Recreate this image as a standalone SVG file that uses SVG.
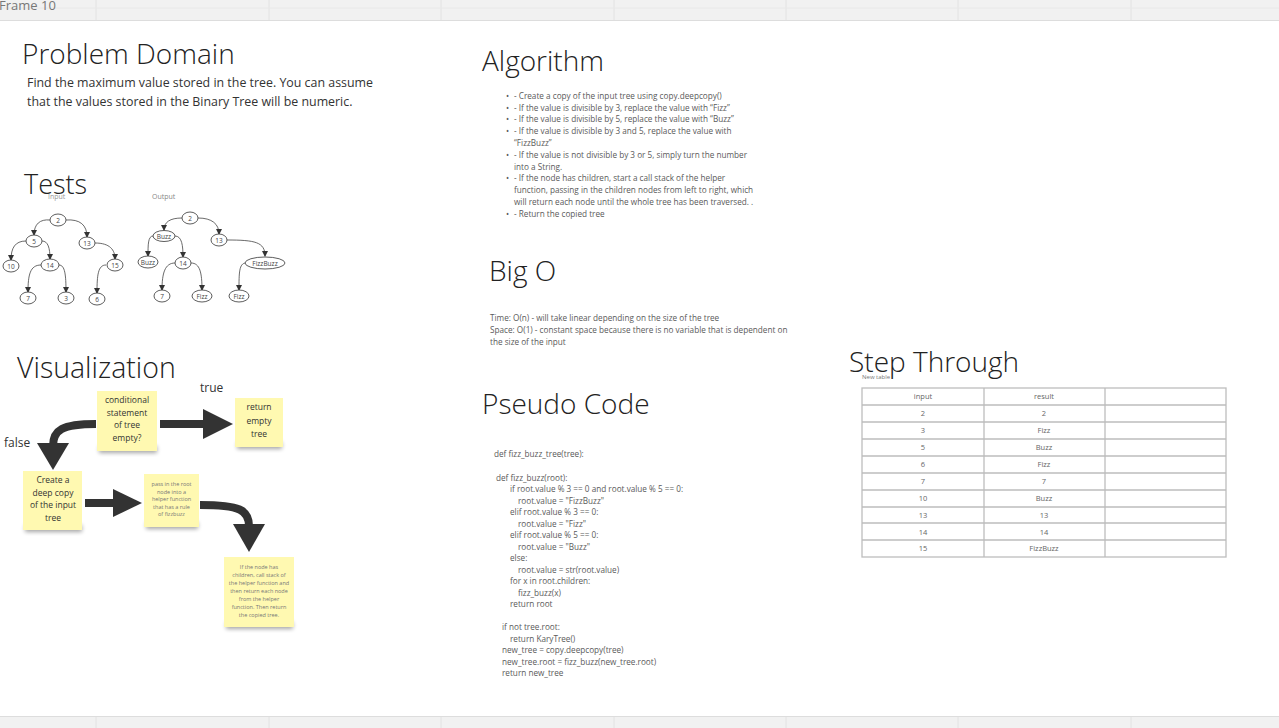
<svg xmlns="http://www.w3.org/2000/svg" width="1279" height="728" viewBox="0 0 1279 728">
<defs>
<style>
text{font-family:"Open Sans","Liberation Sans",sans-serif}
.title{font-size:28px;fill:#222;font-weight:300}
.body{font-size:12.4px;fill:#333}
.sm{font-size:8.2px;fill:#5a5a5a}
.nd{fill:#fff;stroke:#333;stroke-width:0.8}
.nt{font-size:6.5px;fill:#444;text-anchor:middle}
.ed{fill:none;stroke:#444;stroke-width:0.8;marker-end:url(#ah)}
.stk{fill:#fff9b1}
.st{font-size:8.5px;fill:#333;text-anchor:middle}
.stt{font-size:5.5px;fill:#777;text-anchor:middle}
.big{fill:none;stroke:#333;stroke-width:8}
.hd{fill:#333}
.tc{font-size:7.5px;fill:#666;text-anchor:middle}
.grid{stroke:#e2e2e2;stroke-width:1}
</style>
<marker id="ah" markerWidth="6" markerHeight="6" refX="5" refY="3" orient="auto" markerUnits="userSpaceOnUse"><path d="M0,0 L6,3 L0,6 Z" fill="#333"/></marker>
<filter id="blur" x="-20%" y="-50%" width="140%" height="200%"><feGaussianBlur stdDeviation="2"/></filter>
</defs>
<rect width="1279" height="728" fill="#fff"/>
<g id="topbar">
<rect x="0" y="0" width="1279" height="20" fill="#f1f1f1"/>
<line x1="0" y1="20.5" x2="1279" y2="20.5" stroke="#ddd"/>
<g class="grid">
<line x1="96" y1="0" x2="96" y2="20"/><line x1="269" y1="0" x2="269" y2="20"/><line x1="441" y1="0" x2="441" y2="20"/><line x1="614" y1="0" x2="614" y2="20"/><line x1="786" y1="0" x2="786" y2="20"/><line x1="958" y1="0" x2="958" y2="20"/><line x1="1131" y1="0" x2="1131" y2="20"/>
<line x1="0" y1="8" x2="1279" y2="8" stroke="#e8e8e8"/>
</g>
<text x="-1" y="10" style="font-size:13px;fill:#777">Frame 10</text>
</g>
<g id="bottombar">
<rect x="0" y="717" width="1279" height="11" fill="#f1f1f1"/>
<line x1="0" y1="716.5" x2="1279" y2="716.5" stroke="#ddd"/>
<g class="grid">
<line x1="96" y1="717" x2="96" y2="728"/><line x1="269" y1="717" x2="269" y2="728"/><line x1="441" y1="717" x2="441" y2="728"/><line x1="614" y1="717" x2="614" y2="728"/><line x1="786" y1="717" x2="786" y2="728"/><line x1="958" y1="717" x2="958" y2="728"/><line x1="1131" y1="717" x2="1131" y2="728"/>
</g>
</g>

<g id="problem-domain">
<text class="title" x="22" y="64">Problem Domain</text>
<text class="body" x="27" y="87">Find the maximum value stored in the tree. You can assume</text>
<text class="body" x="27" y="106">that the values stored in the Binary Tree will be numeric.</text>
</g>

<g id="tests">
<text class="title" x="24" y="194" style="font-size:27px">Tests</text>
<text x="48" y="199" style="font-size:7px;fill:#999">Input</text>
<text x="152" y="199" style="font-size:7px;fill:#888">Output</text>
</g>

<g id="connectors-trees">
<path class="ed" d="M50,220 C40,219 34,224 34,235"/>
<path class="ed" d="M66,220 C80,219 87,225 87,237"/>
<path class="ed" d="M26,241 C15,241 11,248 11,260"/>
<path class="ed" d="M42,241 C48,241 50,248 50,259"/>
<path class="ed" d="M95,243 C110,243 115,250 115,259"/>
<path class="ed" d="M41,265 C30,265 28,275 28,292"/>
<path class="ed" d="M59,265 C65,265 66,275 66,292"/>
<path class="ed" d="M106,265 C98,265 97,275 97,293"/>
<path class="ed" d="M182,218 C170,218 164,222 164,230"/>
<path class="ed" d="M198,218 C212,218 219,224 219,234"/>
<path class="ed" d="M153,236 C148,236 148,245 148,256"/>
<path class="ed" d="M175,236 C182,236 183,246 183,257"/>
<path class="ed" d="M227,240 C255,240 265,242 265,256"/>
<path class="ed" d="M175,263 C165,263 162,273 162,290"/>
<path class="ed" d="M191,263 C200,263 202,273 202,290"/>
<path class="ed" d="M246,263 C239,263 239,273 239,290"/>
</g>

<g id="input-tree">
<g id="in-2"><ellipse class="nd" cx="58" cy="220" rx="8" ry="6"/><text class="nt" x="58" y="222.5">2</text></g>
<g id="in-5"><ellipse class="nd" cx="34" cy="241" rx="8" ry="6"/><text class="nt" x="34" y="243.5">5</text></g>
<g id="in-13"><ellipse class="nd" cx="87" cy="243" rx="8" ry="6"/><text class="nt" x="87" y="245.5">13</text></g>
<g id="in-10"><ellipse class="nd" cx="11" cy="266" rx="8" ry="6"/><text class="nt" x="11" y="268.5">10</text></g>
<g id="in-14"><ellipse class="nd" cx="50" cy="265" rx="9" ry="6"/><text class="nt" x="50" y="267.5">14</text></g>
<g id="in-15"><ellipse class="nd" cx="115" cy="265" rx="8" ry="6"/><text class="nt" x="115" y="267.5">15</text></g>
<g id="in-7"><ellipse class="nd" cx="28" cy="298" rx="8" ry="6"/><text class="nt" x="28" y="300.5">7</text></g>
<g id="in-3"><ellipse class="nd" cx="66" cy="298" rx="8" ry="6"/><text class="nt" x="66" y="300.5">3</text></g>
<g id="in-6"><ellipse class="nd" cx="97" cy="299" rx="8" ry="6"/><text class="nt" x="97" y="301.5">6</text></g>
</g>

<g id="output-tree">
<g id="out-2"><ellipse class="nd" cx="190" cy="218" rx="8" ry="6"/><text class="nt" x="190" y="220.5">2</text></g>
<g id="out-buzz1"><ellipse class="nd" cx="164" cy="236" rx="11" ry="5.5"/><text class="nt" x="164" y="238.5">Buzz</text></g>
<g id="out-13"><ellipse class="nd" cx="219" cy="240" rx="8" ry="6"/><text class="nt" x="219" y="242.5">13</text></g>
<g id="out-buzz2"><ellipse class="nd" cx="148" cy="262" rx="10" ry="6"/><text class="nt" x="148" y="264.5">Buzz</text></g>
<g id="out-14"><ellipse class="nd" cx="183" cy="263" rx="8" ry="6"/><text class="nt" x="183" y="265.5">14</text></g>
<g id="out-fizzbuzz"><ellipse class="nd" cx="265" cy="263" rx="20" ry="6"/><text class="nt" x="265" y="265.5">FizzBuzz</text></g>
<g id="out-7"><ellipse class="nd" cx="162" cy="296" rx="8" ry="6"/><text class="nt" x="162" y="298.5">7</text></g>
<g id="out-fizz1"><ellipse class="nd" cx="202" cy="296" rx="10" ry="6"/><text class="nt" x="202" y="298.5">Fizz</text></g>
<g id="out-fizz2"><ellipse class="nd" cx="239" cy="296" rx="10" ry="6"/><text class="nt" x="239" y="298.5">Fizz</text></g>
</g>

<g id="algorithm">
<text class="title" x="482" y="71">Algorithm</text>
<g class="sm">
<text x="506" y="99">•</text><text x="514" y="99">- Create a copy of the input tree using copy.deepcopy()</text>
<text x="506" y="110.5">•</text><text x="514" y="110.5">- If the value is divisible by 3, replace the value with “Fizz”</text>
<text x="506" y="122">•</text><text x="514" y="122">- If the value is divisible by 5, replace the value with “Buzz”</text>
<text x="506" y="133.5">•</text><text x="514" y="133.5">- If the value is divisible by 3 and 5, replace the value with</text>
<text x="514" y="145.5">“FizzBuzz”</text>
<text x="506" y="157.5">•</text><text x="514" y="157.5">- If the value is not divisible by 3 or 5, simply turn the number</text>
<text x="514" y="169.5">into a String.</text>
<text x="506" y="181">•</text><text x="514" y="181">- If the node has children, start a call stack of the helper</text>
<text x="514" y="193">function, passing in the children nodes from left to right, which</text>
<text x="514" y="204.5">will return each node until the whole tree has been traversed. .</text>
<text x="506" y="216.5">•</text><text x="514" y="216.5">- Return the copied tree</text>
</g>
</g>

<g id="big-o">
<text class="title" x="489" y="281">Big O</text>
<g class="sm">
<text x="490" y="321">Time: O(n) - will take linear depending on the size of the tree</text>
<text x="490" y="333">Space: O(1) - constant space because there is no variable that is dependent on</text>
<text x="490" y="345">the size of the input</text>
</g>
</g>

<g id="pseudo-code">
<text class="title" x="482" y="414">Pseudo Code</text>
<g class="sm">
<text x="494" y="457">def fizz_buzz_tree(tree):</text>
<text x="496" y="481">def fizz_buzz(root):</text>
<text x="510" y="492">if root.value % 3 == 0 and root.value % 5 == 0:</text>
<text x="518" y="503.5">root.value = "FizzBuzz"</text>
<text x="510" y="515">elif root.value % 3 == 0:</text>
<text x="518" y="526.5">root.value = "Fizz"</text>
<text x="510" y="538">elif root.value % 5 == 0:</text>
<text x="518" y="549.5">root.value = "Buzz"</text>
<text x="510" y="561">else:</text>
<text x="518" y="572.5">root.value = str(root.value)</text>
<text x="510" y="584">for x in root.children:</text>
<text x="518" y="595.5">fizz_buzz(x)</text>
<text x="510" y="607">return root</text>
<text x="502" y="630">if not tree.root:</text>
<text x="510" y="641.5">return KaryTree()</text>
<text x="502" y="653">new_tree = copy.deepcopy(tree)</text>
<text x="502" y="664.5">new_tree.root = fizz_buzz(new_tree.root)</text>
<text x="502" y="676">return new_tree</text>
</g>
</g>

<g id="step-through">
<text class="title" x="849" y="372">Step Through</text>
<text x="862" y="379" style="font-size:6px;fill:#777">New table</text>
<g fill="none" stroke="#bdbdbd" stroke-width="1.3">
<rect x="862" y="388" width="364" height="169"/>
<line x1="984" y1="388" x2="984" y2="557"/>
<line x1="1105" y1="388" x2="1105" y2="557"/>
<line x1="862" y1="405" x2="1226" y2="405"/>
<line x1="862" y1="422" x2="1226" y2="422"/>
<line x1="862" y1="439" x2="1226" y2="439"/>
<line x1="862" y1="456" x2="1226" y2="456"/>
<line x1="862" y1="473" x2="1226" y2="473"/>
<line x1="862" y1="490" x2="1226" y2="490"/>
<line x1="862" y1="507" x2="1226" y2="507"/>
<line x1="862" y1="523" x2="1226" y2="523"/>
<line x1="862" y1="540" x2="1226" y2="540"/>
</g>
<g class="tc">
<text x="923" y="399">input</text><text x="1044" y="399">result</text>
<text x="923" y="416">2</text><text x="1044" y="416">2</text>
<text x="923" y="433">3</text><text x="1044" y="433">Fizz</text>
<text x="923" y="450">5</text><text x="1044" y="450">Buzz</text>
<text x="923" y="467">6</text><text x="1044" y="467">Fizz</text>
<text x="923" y="484">7</text><text x="1044" y="484">7</text>
<text x="923" y="501">10</text><text x="1044" y="501">Buzz</text>
<text x="923" y="517.5">13</text><text x="1044" y="517.5">13</text>
<text x="923" y="534.5">14</text><text x="1044" y="534.5">14</text>
<text x="923" y="551">15</text><text x="1044" y="551">FizzBuzz</text>
</g>
</g>

<g id="visualization">
<text class="title" x="17" y="378" style="font-size:28.5px">Visualization</text>
<text x="200" y="392" style="font-size:12px;fill:#333">true</text>
<text x="4" y="447" style="font-size:12px;fill:#333">false</text>
</g>

<g id="connectors-viz">
<line class="big" x1="160" y1="424" x2="205" y2="424"/>
<polygon class="hd" points="203,409 233,424 203,439"/>
<path class="big" d="M96,424 C62,424 53,430 53,446"/>
<polygon class="hd" points="37,443 69,443 53,470"/>
<line class="big" x1="85" y1="503" x2="115" y2="503"/>
<polygon class="hd" points="113,489 142,503 113,517"/>
<path class="big" d="M200,505 C240,505 249,510 249,526"/>
<polygon class="hd" points="233,524 265,524 249,552"/>
</g>

<g id="sticky-conditional">
<rect x="99" y="446" width="58" height="7" fill="#000" opacity="0.35" filter="url(#blur)"/>
<rect class="stk" x="97" y="391" width="60" height="60"/>
<text class="st" x="127" y="403">conditional</text>
<text class="st" x="127" y="415.5">statement</text>
<text class="st" x="127" y="428">of tree</text>
<text class="st" x="127" y="440.5">empty?</text>
</g>

<g id="sticky-return">
<rect x="237" y="442" width="45" height="7" fill="#000" opacity="0.35" filter="url(#blur)"/>
<rect class="stk" x="235" y="398" width="48" height="49"/>
<text class="st" x="259" y="410">return</text>
<text class="st" x="259" y="423.5">empty</text>
<text class="st" x="259" y="437">tree</text>
</g>

<g id="sticky-deepcopy">
<rect x="25" y="525" width="57" height="7" fill="#000" opacity="0.35" filter="url(#blur)"/>
<rect class="stk" x="23" y="471" width="59" height="59"/>
<text class="st" x="53" y="483">Create a</text>
<text class="st" x="53" y="495.5">deep copy</text>
<text class="st" x="53" y="508">of the input</text>
<text class="st" x="53" y="520.5">tree</text>
</g>

<g id="sticky-helper">
<rect x="146" y="522" width="52" height="7" fill="#000" opacity="0.35" filter="url(#blur)"/>
<rect class="stk" x="144" y="474" width="55" height="53"/>
<text class="stt" x="171.5" y="486">pass in the root</text>
<text class="stt" x="171.5" y="493.5">node into a</text>
<text class="stt" x="171.5" y="501">helper function</text>
<text class="stt" x="171.5" y="508.5">that has a rule</text>
<text class="stt" x="171.5" y="516">of fizzbuzz</text>
</g>

<g id="sticky-children">
<rect x="226" y="622" width="67" height="7" fill="#000" opacity="0.35" filter="url(#blur)"/>
<rect class="stk" x="224" y="557" width="70" height="70"/>
<text class="stt" x="259" y="569">If the node has</text>
<text class="stt" x="259" y="577">children, call stack of</text>
<text class="stt" x="259" y="585">the helper function and</text>
<text class="stt" x="259" y="593">then return each node</text>
<text class="stt" x="259" y="601">from the helper</text>
<text class="stt" x="259" y="609">function. Then return</text>
<text class="stt" x="259" y="617">the copied tree.</text>
</g>
</svg>
